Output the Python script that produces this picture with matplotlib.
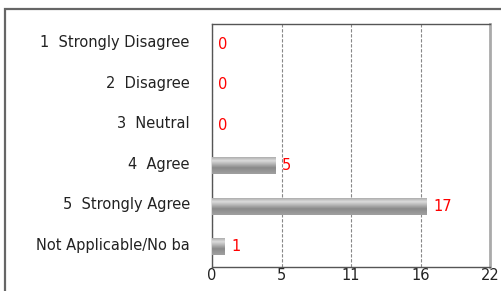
import numpy as np
import matplotlib
matplotlib.use('Agg')
import matplotlib.pyplot as plt
import matplotlib.transforms as mtransforms
from matplotlib.patches import Rectangle
from matplotlib.colors import LinearSegmentedColormap

categories = ['1  Strongly Disagree', '2  Disagree', '3  Neutral',
              '4  Agree', '5  Strongly Agree', 'Not Applicable/No ba']
counts = [0, 0, 0, 5, 17, 1]
xticks = [0, 5.5, 11, 16.5, 22]
xticklabels = ['0', '5', '11', '16', '22']

plt.rcParams['font.family'] = 'DejaVu Sans'
fs = 10.5

fig = plt.figure(figsize=(5.01, 2.91), dpi=100)
ax = fig.add_axes([212/501, 24/291, 278/501, 243/291])

# outer frame (runs off the right and bottom edges)
fig.patches.append(Rectangle((5/501, -0.1), 1.2, (291-9)/291 + 0.1,
                             transform=fig.transFigure, fill=False,
                             edgecolor='#666666', linewidth=1.6, zorder=0))

y = np.arange(len(categories))
bh = 0.42

cmap = LinearSegmentedColormap.from_list('cyl', [
    (0.0, '#a0a0a0'), (0.35, '#8a8a8a'), (0.75, '#dcdcdc'), (1.0, '#a0a0a0')])
grad = np.linspace(0, 1, 64).reshape(-1, 1)

for yi, c in zip(y, counts):
    if c > 0:
        bar = ax.barh(yi, c, height=bh, color='none', edgecolor='none', zorder=3)[0]
        im = ax.imshow(grad, cmap=cmap, aspect='auto', zorder=3,
                       extent=(0, c, yi - bh/2, yi + bh/2), origin='upper')
        im.set_clip_path(bar)
    ax.text(c + 0.5, yi, str(c), color='#ff0000', fontsize=fs,
            va='center', ha='left', zorder=4)

ax.set_xlim(0, 22)
ax.set_ylim(len(categories) - 0.5, -0.5)

ax.set_xticks(xticks)
ax.set_xticklabels(xticklabels, fontsize=fs, color='#222222')
ax.set_yticks(y)
ax.set_yticklabels(categories, fontsize=fs, color='#222222')
ax.tick_params(axis='y', length=0, pad=16)
ax.tick_params(axis='x', length=0, pad=1)
off = mtransforms.ScaledTranslation(0, 3/100, fig.dpi_scale_trans)
for lab in ax.get_yticklabels():
    lab.set_transform(lab.get_transform() + off)

ax.grid(axis='x', linestyle=(0, (3, 1.5)), color='#888888', linewidth=0.8, zorder=1)
ax.grid(axis='y', visible=False)
ax.set_axisbelow(True)

for s in ['left', 'top', 'bottom']:
    ax.spines[s].set_color('#555555')
    ax.spines[s].set_linewidth(1.0)
ax.spines['right'].set_color('#aaaaaa')
ax.spines['right'].set_linewidth(2.0)

fig.savefig('out.png', dpi=100)
